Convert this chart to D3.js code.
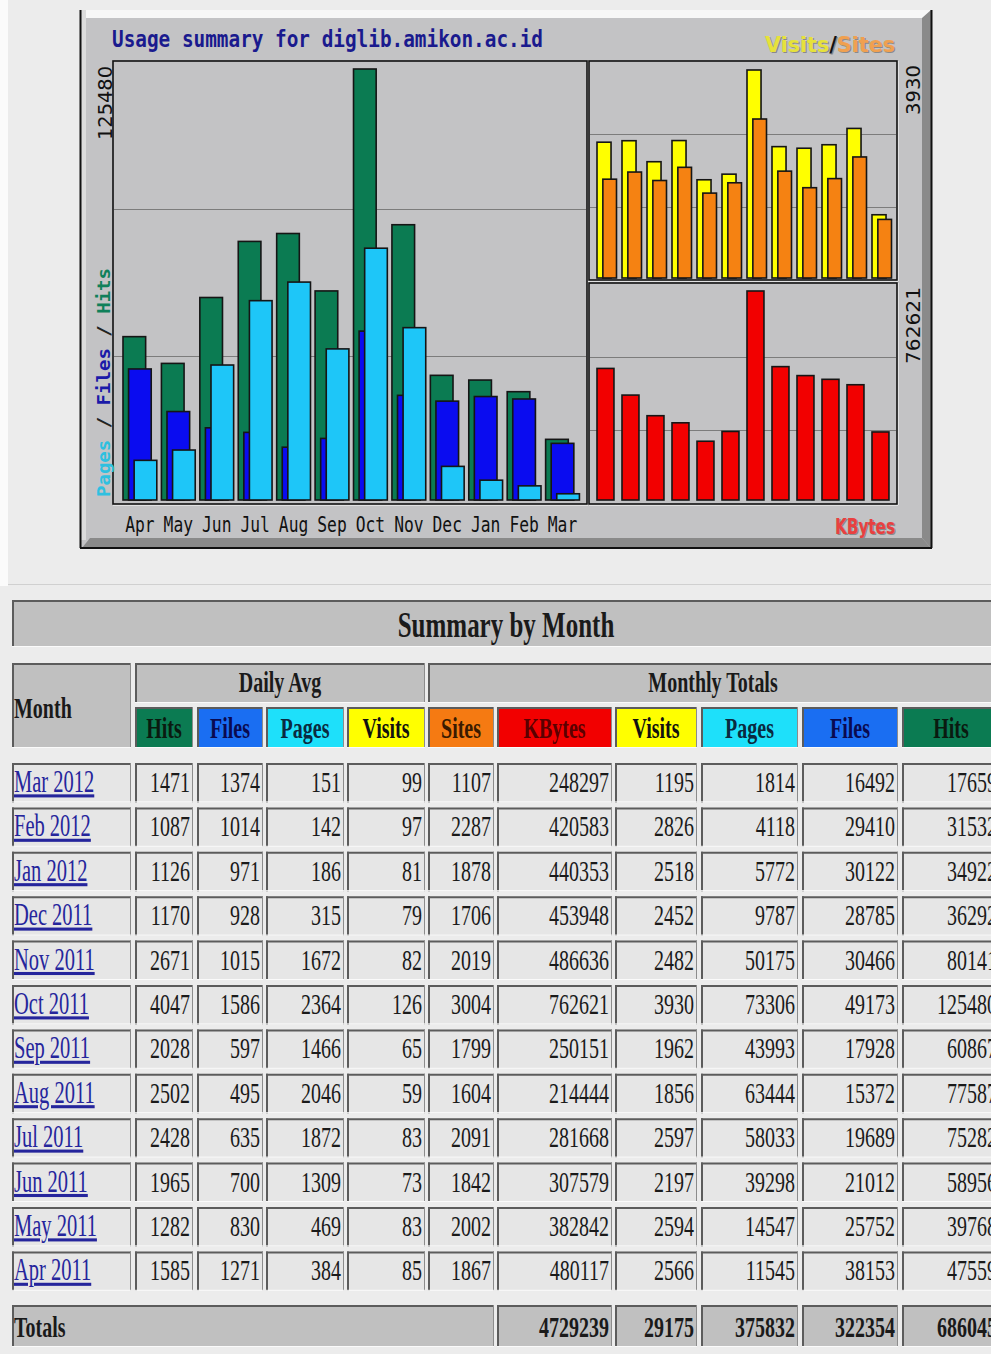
<!DOCTYPE html>
<html><head><meta charset="utf-8">
<script src="https://cdn.jsdelivr.net/npm/d3@7"></script>
<style>
html,body{margin:0;padding:0;background:#ececec;overflow:hidden;}
svg{display:block;}
</style></head><body>
<svg id="c" width="991" height="1354"></svg>
<script>
// ---------- data (chart order: Apr 2011 -> Mar 2012) ----------
const months = ["Apr","May","Jun","Jul","Aug","Sep","Oct","Nov","Dec","Jan","Feb","Mar"];
const monthNames = ["Apr 2011","May 2011","Jun 2011","Jul 2011","Aug 2011","Sep 2011","Oct 2011","Nov 2011","Dec 2011","Jan 2012","Feb 2012","Mar 2012"];
const hits   = [47559, 39768, 58956, 75282, 77587, 60867, 125480, 80141, 36292, 34922, 31532, 17659];
const files  = [38153, 25752, 21012, 19689, 15372, 17928, 49173, 30466, 28785, 30122, 29410, 16492];
const pages  = [11545, 14547, 39298, 58033, 63444, 43993, 73306, 50175, 9787, 5772, 4118, 1814];
const visits = [2566, 2594, 2197, 2597, 1856, 1962, 3930, 2482, 2452, 2518, 2826, 1195];
const sites  = [1867, 2002, 1842, 2091, 1604, 1799, 3004, 2019, 1706, 1878, 2287, 1107];
const kbytes = [480117, 382842, 307579, 281668, 214444, 250151, 762621, 486636, 453948, 440353, 420583, 248297];
const dayHits   = [1585, 1282, 1965, 2428, 2502, 2028, 4047, 2671, 1170, 1126, 1087, 1471];
const dayFiles  = [1271, 830, 700, 635, 495, 597, 1586, 1015, 928, 971, 1014, 1374];
const dayPages  = [384, 469, 1309, 1872, 2046, 1466, 2364, 1672, 315, 186, 142, 151];
const dayVisits = [85, 83, 73, 83, 59, 65, 126, 82, 79, 81, 97, 99];
const totalLabels = ["KBytes","Visits","Pages","Files","Hits"];
const totalValues = [4729239, 29175, 375832, 322354, 686045];

const C = {hits:"#0b7b52", files:"#0a0cf0", pages:"#1ec6f8", visits:"#ffff00", sites:"#f58212", kbytes:"#f20000"};
const svg = d3.select("#c");
svg.append("rect").attr("width",991).attr("height",1354).attr("fill","#ececec");
svg.append("rect").attr("width",8).attr("height",586).attr("fill","#fbfbfb");
svg.append("line").attr("x1",8).attr("x2",991).attr("y1",584.5).attr("y2",584.5).attr("stroke","#d0d0d0");

// ---------- chart frame ----------
const ch = svg.append("g");
ch.append("rect").attr("x",80).attr("y",10).attr("width",852).attr("height",538).attr("fill","#c3c3c5");
ch.append("rect").attr("x",80).attr("y",10).attr("width",852).attr("height",8).attr("fill","#f7f7f7");
ch.append("rect").attr("x",81).attr("y",10).attr("width",5).attr("height",530).attr("fill","#dcdcdc");
ch.append("polygon").attr("points","922,18 931,10 931,548 922,538").attr("fill","#8a8a8a");
ch.append("polygon").attr("points","82,548 90,538 922,538 931,548").attr("fill","#8a8a8a");
ch.append("line").attr("x1",80.5).attr("x2",80.5).attr("y1",10).attr("y2",548).attr("stroke","#111").attr("stroke-width",2);
ch.append("line").attr("x1",931.5).attr("x2",931.5).attr("y1",10).attr("y2",548).attr("stroke","#111").attr("stroke-width",2);
ch.append("line").attr("x1",80).attr("x2",932).attr("y1",548).attr("y2",548).attr("stroke","#111").attr("stroke-width",2);

function panel(x0,y0,x1,y1){
  ch.append("line").attr("x1",x1+1).attr("x2",x1+1).attr("y1",y0).attr("y2",y1+1).attr("stroke","#fff");
  ch.append("line").attr("x1",x0).attr("x2",x1+1).attr("y1",y1+1).attr("y2",y1+1).attr("stroke","#fff");
  ch.append("rect").attr("x",x0).attr("y",y0).attr("width",x1-x0).attr("height",y1-y0)
    .attr("fill","#c3c3c5").attr("stroke","#111").attr("stroke-width",1.6);
  for(let k=1;k<3;k++){
    const y = Math.round(y0 + (y1-y0)*k/3)+0.5;
    ch.append("line").attr("x1",x0+1).attr("x2",x1-1).attr("y1",y).attr("y2",y).attr("stroke","#7c7c7c").attr("stroke-width",1.2);
  }
}
panel(113,61,587,504);
panel(589,61,897,280);
panel(589,283,897,504);

// scales
const xMain = d3.scaleBand().domain(months).range([123, 123+11*38.42+33.8]).paddingInner(1-33.8/38.42).paddingOuter(0);
const bw = xMain.bandwidth();
const yMain = d3.scaleLinear().domain([0, d3.max(hits)]).range([500, 69]);
const xR = d3.scaleBand().domain(months).range([597, 597+11*25+19.5]).paddingInner(1-19.5/25).paddingOuter(0);
const rw = xR.bandwidth();
const yVS = d3.scaleLinear().domain([0, d3.max(visits)]).range([278, 70]);
const yK = d3.scaleLinear().domain([0, d3.max(kbytes)]).range([500, 291]);

function bars(data, xs, ys, off, w, color){
  ch.append("g").selectAll("rect").data(data).join("rect")
    .attr("x",(d,i)=>xs(months[i])+off)
    .attr("y",d=>ys(d))
    .attr("width",w)
    .attr("height",d=>ys(0)-ys(d))
    .attr("fill",color).attr("stroke","#151515").attr("stroke-width",1.6);
}
bars(hits, xMain, yMain, 0, bw*0.67, C.hits);
bars(files, xMain, yMain, bw*0.165, bw*0.67, C.files);
bars(pages, xMain, yMain, bw*0.33, bw*0.67, C.pages);
bars(visits, xR, yVS, 0, rw*0.72, C.visits);
bars(sites, xR, yVS, rw*0.3, rw*0.7, C.sites);
bars(kbytes, xR, yK, 0, rw*0.87, C.kbytes);

// month axis
const ax = ch.append("g").call(d3.axisBottom(xMain).tickSize(0));
ax.select(".domain").remove();
ax.selectAll("text").attr("y",null).attr("dy",null)
  .attr("transform","translate(0,532) scale(1,1.25)")
  .attr("font-family","DejaVu Sans Mono").attr("font-size",16.3).attr("fill","#111");

// title
ch.append("text").attr("transform","translate(112,47) scale(1,1.2)")
  .attr("font-family","DejaVu Sans Mono").attr("font-weight","bold").attr("font-size",19)
  .attr("fill","#1a1a8e").attr("textLength",431).attr("lengthAdjust","spacingAndGlyphs")
  .text("Usage summary for diglib.amikon.ac.id");

// vertical max labels
function vlabel(txt,x,y,len){
  ch.append("text").attr("transform",`translate(${x},${y}) rotate(-90)`).attr("text-anchor","end")
    .attr("font-family","DejaVu Sans").attr("font-size",19.5).attr("fill","#111")
    .attr("textLength",len).attr("lengthAdjust","spacingAndGlyphs").text(txt);
}
vlabel(String(d3.max(hits)),112,66,74);
vlabel(String(d3.max(visits)),920,65,50);
vlabel(String(d3.max(kbytes)),920,287,77);

// rotated legend Pages / Files / Hits
const lg = ch.append("text").attr("transform","translate(110,497) rotate(-90)")
  .attr("font-family","DejaVu Sans Mono").attr("font-weight","bold").attr("font-size",18.5)
  .attr("textLength",229).attr("lengthAdjust","spacingAndGlyphs");
lg.append("tspan").attr("fill","#2fc0e0").text("Pages");
lg.append("tspan").attr("fill","#222").text(" / ");
lg.append("tspan").attr("fill","#1a1aa8").text("Files");
lg.append("tspan").attr("fill","#222").text(" / ");
lg.append("tspan").attr("fill","#10805a").text("Hits");

// Visits / Sites legend with shadow
function shadowText(parts, x, y, len){
  [[1.2,"#8a8a8a",true],[0,null,false]].forEach(([o,col,sh])=>{
    const t = ch.append("text").attr("transform",`translate(${x+o},${y+o}) scale(1,1.2)`)
      .attr("font-family","DejaVu Sans").attr("font-weight","bold").attr("font-size",17)
      .attr("textLength",len).attr("lengthAdjust","spacingAndGlyphs");
    parts.forEach(p=>t.append("tspan").attr("fill", sh?col:p[1]).text(p[0]));
  });
}
shadowText([["Visits","#e6e23a"],["/","#111"],["Sites","#f0a050"]], 765, 52, 130);
shadowText([["KBytes","#e84040"]], 835, 534, 60);

// ---------- table ----------
const tb = svg.append("g");
function cell(x0,x1,y0,y1,fill){
  tb.append("rect").attr("x",x0).attr("y",y0).attr("width",x1-x0).attr("height",y1-y0).attr("fill",fill);
  tb.append("line").attr("x1",x0).attr("x2",x1).attr("y1",y0+1).attr("y2",y0+1).attr("stroke","#5c5c5c").attr("stroke-width",2);
  tb.append("line").attr("x1",x0+1).attr("x2",x0+1).attr("y1",y0).attr("y2",y1).attr("stroke","#5c5c5c").attr("stroke-width",2);
  tb.append("line").attr("x1",x1-0.5).attr("x2",x1-0.5).attr("y1",y0).attr("y2",y1).attr("stroke","#8c8c8c").attr("stroke-width",1);
  tb.append("line").attr("x1",x0).attr("x2",x1).attr("y1",y1-0.5).attr("y2",y1-0.5).attr("stroke","#fafafa").attr("stroke-width",1);
}
function txt(s,x,y,opts={}){
  const t = tb.append("text").attr("transform",`translate(${x},${y}) scale(1,${opts.sy||1.5})`)
    .attr("text-anchor",opts.anchor||"start")
    .attr("font-family","Liberation Serif").attr("font-size",opts.size||20)
    .attr("font-weight",opts.bold?"bold":"normal").attr("fill",opts.fill||"#1a1a1a").text(s);
  if(opts.underline) t.attr("text-decoration","underline");
  return t;
}
// title row
cell(12,1000,600,647,"#c0c0c0");
txt("Summary by Month",506,637,{anchor:"middle",size:25,bold:true,sy:1.45});
// header rows
cell(12,131,663,748,"#c0c0c0");
txt("Month",14,718,{bold:true});
cell(135,425,663,703,"#c0c0c0");
txt("Daily Avg",280,692,{anchor:"middle",bold:true});
cell(428,1000,663,703,"#c0c0c0");
txt("Monthly Totals",713,692,{anchor:"middle",bold:true});

const cols = [
  {k:"dHits",  x0:135,x1:193,label:"Hits",  color:C.hits,   tc:"#0a1a10"},
  {k:"dFiles", x0:197,x1:263,label:"Files", color:"#1a6ef2",tc:"#0a0a50"},
  {k:"dPages", x0:266,x1:344,label:"Pages", color:"#1ee0fa",tc:"#0a2a40"},
  {k:"dVisits",x0:347,x1:425,label:"Visits",color:C.visits, tc:"#111"},
  {k:"mSites", x0:428,x1:494,label:"Sites", color:"#f57a12",tc:"#3a1a00"},
  {k:"mKBytes",x0:497,x1:612,label:"KBytes",color:C.kbytes, tc:"#5a0000"},
  {k:"mVisits",x0:615,x1:697,label:"Visits",color:C.visits, tc:"#111"},
  {k:"mPages", x0:701,x1:798,label:"Pages", color:"#1ee0fa",tc:"#0a2a40"},
  {k:"mFiles", x0:802,x1:898,label:"Files", color:"#1a6ef2",tc:"#0a0a50"},
  {k:"mHits",  x0:902,x1:1000,label:"Hits", color:C.hits,   tc:"#0a1a10"}
];
cols.forEach(c=>{
  cell(c.x0,c.x1,707,748,c.color);
  txt(c.label,(c.x0+c.x1)/2,738,{anchor:"middle",bold:true,fill:c.tc});
});

// data rows (newest first)
const order = d3.range(months.length).reverse();
const series = {dHits:dayHits,dFiles:dayFiles,dPages:dayPages,dVisits:dayVisits,
  mSites:sites,mKBytes:kbytes,mVisits:visits,mPages:pages,mFiles:files,mHits:hits};
const yRow = d3.scaleBand().domain(order.map(i=>monthNames[i])).range([763, 763+11*44.4+39.4]).paddingInner(0.113).paddingOuter(0);
order.forEach(i=>{
  const y0 = yRow(monthNames[i]), y1 = y0 + yRow.bandwidth();
  cell(12,131,y0,y1,"#e6e6e6");
  txt(monthNames[i],14,y0+29,{fill:"#25259c",underline:true,size:20.5});
  cols.forEach(c=>{
    cell(c.x0,c.x1,y0,y1,"#e6e6e6");
    txt(String(series[c.k][i]),c.x1-3,y0+29,{anchor:"end"});
  });
});
// totals row
cell(12,494,1305,1347,"#c0c0c0");
txt("Totals",14,1337,{bold:true});
totalLabels.forEach((lab,j)=>{
  const c = cols[5+j];
  cell(c.x0,c.x1,1305,1347,"#c0c0c0");
  txt(String(totalValues[j]),c.x1-3,1337,{anchor:"end",bold:true});
});
</script>
</body></html>
